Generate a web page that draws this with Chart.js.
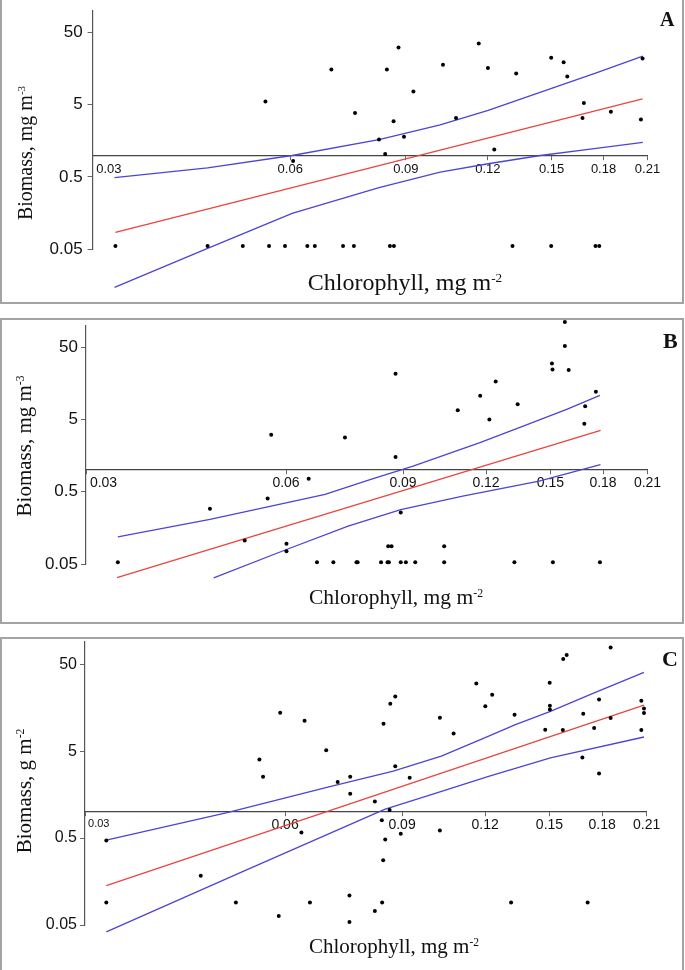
<!DOCTYPE html>
<html>
<head>
<meta charset="utf-8">
<script src="https://cdn.jsdelivr.net/npm/chart.js@4.4.1/dist/chart.umd.min.js"></script>
<style>
  html, body { margin: 0; padding: 0; background: #fff; }
  body { width: 685px; height: 970px; position: relative; overflow: hidden; }
  .panel { position: absolute; left: 0; width: 684px; box-sizing: border-box; border: 2px solid #a3a3a3; pointer-events: none; z-index: 2; }
  canvas.plot { position: absolute; left: 0; }
  .lbl { position: absolute; white-space: nowrap; line-height: 1; font-family: 'Liberation Serif', 'Times New Roman', serif; color: #111; z-index: 3; }
  .ytitle { transform: translate(-50%, -50%) rotate(-90deg); }
  .xtitle { transform: translateX(-50%); }
  .sup { font-size: 0.55em; position: relative; top: -0.62em; }
  .tag { font-weight: bold; }
</style>
</head>
<body>

<div class="panel" style="top:-2px;height:306px"></div>
<div class="panel" style="top:318px;height:306px"></div>
<div class="panel" style="top:637px;height:340px"></div>

<canvas id="chartA" class="plot" width="685" height="303" style="top:0"></canvas>
<canvas id="chartB" class="plot" width="685" height="305" style="top:318px"></canvas>
<canvas id="chartC" class="plot" width="685" height="332" style="top:638px"></canvas>

<div class="lbl ytitle" style="left:25px;top:153px;font-size:20px">Biomass, mg m<span class="sup">-3</span></div>
<div class="lbl xtitle" style="left:405px;top:270px;font-size:24px">Chlorophyll, mg m<span class="sup">-2</span></div>
<div class="lbl tag" style="left:660px;top:9px;font-size:20px">A</div>

<div class="lbl ytitle" style="left:24px;top:446px;font-size:21px">Biomass, mg m<span class="sup">-3</span></div>
<div class="lbl xtitle" style="left:396px;top:587px;font-size:21.5px">Chlorophyll, mg m<span class="sup">-2</span></div>
<div class="lbl tag" style="left:663px;top:330px;font-size:22px">B</div>

<div class="lbl ytitle" style="left:24px;top:791px;font-size:21px">Biomass, g m<span class="sup">-2</span></div>
<div class="lbl xtitle" style="left:394px;top:936px;font-size:21px">Chlorophyll, mg m<span class="sup">-2</span></div>
<div class="lbl tag" style="left:662px;top:648px;font-size:22px">C</div>

<script>
// axes (log-log)
const xTicks = [0.03, 0.06, 0.09, 0.12, 0.15, 0.18, 0.21];
const xTickLabels = ['0.03', '0.06', '0.09', '0.12', '0.15', '0.18', '0.21'];
const yTicks = [0.05, 0.5, 5, 50];
const yTickLabels = ['0.05', '0.5', '5', '50'];

// Panel A
const aChl = [0.0325, 0.0449, 0.0508, 0.0550, 0.0557, 0.0589, 0.0606, 0.0637, 0.0654, 0.0693, 0.0722, 0.0750, 0.0753, 0.0819, 0.0837, 0.0842, 0.0851, 0.0862, 0.0863, 0.0877, 0.0894, 0.0924, 0.1025, 0.1073, 0.1162, 0.1200, 0.1227, 0.1308, 0.1325, 0.1498, 0.1498, 0.1565, 0.1585, 0.1672, 0.1680, 0.1750, 0.1773, 0.1847, 0.2052, 0.2064];
const aBio = [0.055, 0.055, 0.055, 5.56, 0.055, 0.055, 0.83, 0.055, 0.055, 15.5, 0.055, 0.055, 3.86, 1.65, 1.04, 15.5, 0.055, 2.96, 0.055, 31.2, 1.8, 7.64, 17.9, 3.29, 35.4, 16.2, 1.2, 0.055, 13.6, 0.055, 22.4, 19.5, 12.3, 3.29, 5.31, 0.055, 0.055, 3.99, 3.13, 21.9];
const aFitChl = [0.0325, 0.2064];
const aFitBio = [0.085, 6.04];
const aUpChl = [0.0324, 0.0449, 0.0604, 0.0819, 0.1015, 0.1201, 0.1500, 0.1759, 0.2066];
const aUpBio = [0.49, 0.667, 0.99, 1.65, 2.63, 4.17, 8.46, 14.0, 23.6];
const aLoChl = [0.0324, 0.0449, 0.0604, 0.0819, 0.1015, 0.1201, 0.1442, 0.1718, 0.2066];
const aLoBio = [0.0147, 0.051, 0.156, 0.354, 0.581, 0.761, 0.99, 1.21, 1.51];

// Panel B
const bChl = [0.0335, 0.0461, 0.0520, 0.0563, 0.0570, 0.0601, 0.0601, 0.0649, 0.0668, 0.0707, 0.0736, 0.0766, 0.0769, 0.0834, 0.0853, 0.0855, 0.0857, 0.0865, 0.0877, 0.0877, 0.0893, 0.0893, 0.0909, 0.0939, 0.1038, 0.1038, 0.1088, 0.1176, 0.1214, 0.1241, 0.1324, 0.1339, 0.1508, 0.1511, 0.1513, 0.1577, 0.1577, 0.1598, 0.1687, 0.1692, 0.1756, 0.1781];
const bBio = [0.053, 0.29, 0.106, 0.404, 3.08, 0.0953, 0.0752, 0.757, 0.053, 0.053, 2.82, 0.053, 0.053, 0.053, 0.053, 0.0882, 0.053, 0.0882, 21.5, 1.51, 0.053, 0.258, 0.053, 0.053, 0.053, 0.0882, 6.75, 10.7, 5.02, 16.8, 0.053, 8.17, 29.9, 24.7, 0.053, 112, 52, 24.2, 4.37, 7.66, 12.1, 0.053];
const bFitChl = [0.0334, 0.1785];
const bFitBio = [0.0325, 3.53];
const bUpChl = [0.0335, 0.0461, 0.0563, 0.0687, 0.0805, 0.0932, 0.1175, 0.1365, 0.1587, 0.1781];
const bUpBio = [0.119, 0.207, 0.31, 0.459, 0.74, 1.13, 2.39, 4.05, 6.9, 10.8];
const bLoChl = [0.0467, 0.0601, 0.0744, 0.0893, 0.1107, 0.1442, 0.1784];
const bLoBio = [0.0322, 0.0794, 0.167, 0.284, 0.435, 0.701, 1.19];

// Panel C
const cChl = [0.1854, 0.1592, 0.1573, 0.1164, 0.1501, 0.1230, 0.0879, 0.0864, 0.2062, 0.1781, 0.1201, 0.1502, 0.1502, 0.2081, 0.2081, 0.0590, 0.1686, 0.1329, 0.1026, 0.1854, 0.0642, 0.0844, 0.1751, 0.1478, 0.1571, 0.2062, 0.1076, 0.0692, 0.1681, 0.0549, 0.0879, 0.1781, 0.0556, 0.0752, 0.0924, 0.0720, 0.0752, 0.0819, 0.0862, 0.0839, 0.1026, 0.0635, 0.0896, 0.0323, 0.0849, 0.0843, 0.0448, 0.0750, 0.0323, 0.0506, 0.0654, 0.0840, 0.1313, 0.1712, 0.0587, 0.0819, 0.0750];
const cBio = [77.8, 63.7, 57.3, 29.9, 30.5, 22.2, 21.2, 17.5, 19.0, 19.6, 16.4, 16.6, 15.1, 15.5, 13.7, 13.8, 13.5, 13.1, 12.1, 12.0, 11.2, 10.35, 9.2, 8.8, 8.74, 8.74, 7.95, 5.12, 4.22, 4.0, 3.36, 2.77, 2.53, 2.53, 2.47, 2.2, 1.62, 1.32, 1.05, 0.80, 0.61, 0.58, 0.56, 0.47, 0.48, 0.277, 0.184, 0.109, 0.091, 0.091, 0.091, 0.091, 0.091, 0.091, 0.0634, 0.0723, 0.0541];
const cFitChl = [0.0323, 0.2081];
const cFitBio = [0.142, 16.9];
const cUpChl = [0.0323, 0.0491, 0.0696, 0.0873, 0.1031, 0.1181, 0.1333, 0.1505, 0.1751, 0.2081];
const cUpBio = [0.474, 0.98, 1.93, 2.94, 4.37, 6.79, 10.1, 14.3, 23.4, 40.3];
const cLoChl = [0.0323, 0.0522, 0.0847, 0.1015, 0.1218, 0.1505, 0.2081];
const cLoBio = [0.0416, 0.211, 1.07, 1.66, 2.58, 4.18, 7.27];

const BLUE = '#4d44d4';
const RED = '#e8453c';
const SANS = "'Liberation Sans', Arial, sans-serif";

const pairs = (xs, ys) => xs.map((x, i) => ({ x, y: ys[i] }));

function line(xs, ys, color) {
    return {
        data: pairs(xs, ys),
        showLine: true,
        pointRadius: 0,
        borderColor: color,
        borderWidth: 1.3,
        fill: false,
        clip: false,
    };
}

// box: chart area placement inside the canvas + font sizes
function renderPanel(canvasId, s, box) {
    const canvas = document.getElementById(canvasId);
    new Chart(canvas, {
        type: 'scatter',
        data: {
            datasets: [
                { data: pairs(s.chl, s.bio), pointRadius: 2, pointBackgroundColor: '#000', pointBorderWidth: 0, clip: false },
                line(s.fitChl, s.fitBio, RED),
                line(s.upChl, s.upBio, BLUE),
                line(s.loChl, s.loBio, BLUE),
            ]
        },
        options: {
            responsive: false,
            animation: false,
            layout: { padding: { left: 0, top: box.top, right: box.right, bottom: box.bottom } },
            plugins: { legend: { display: false }, tooltip: { enabled: false } },
            scales: {
                x: {
                    type: 'logarithmic',
                    min: 0.03,
                    max: 0.21,
                    position: { y: 1 },
                    afterBuildTicks: sc => { sc.ticks = xTicks.map(v => ({ value: v })); },
                    afterFit: sc => { sc.paddingLeft = 0; sc.paddingRight = 0; },
                    grid: { drawOnChartArea: false, drawTicks: true, tickLength: 4, color: '#666', lineWidth: 1 },
                    border: { display: true, color: '#444', width: 1.2 },
                    ticks: {
                        autoSkip: false,
                        maxRotation: 0,
                        padding: box.xPad,
                        color: '#111',
                        font: ctx => ({ family: SANS, size: ctx.index === 0 ? box.firstSize : box.xSize }),
                        // first label sits to the right of the axis corner
                        callback: (v, i) => (i === 0 ? ' '.repeat(9) : '') + xTickLabels[i],
                    }
                },
                y: {
                    type: 'logarithmic',
                    min: 0.05,
                    max: box.yMax,
                    position: 'left',
                    afterBuildTicks: sc => { sc.ticks = yTicks.map(v => ({ value: v })); },
                    afterFit: sc => { sc.width = box.left; sc.paddingTop = 0; sc.paddingBottom = 0; },
                    grid: { drawOnChartArea: false, drawTicks: true, tickLength: 5, color: '#666', lineWidth: 1 },
                    border: { display: true, color: '#555', width: 1.2 },
                    ticks: {
                        autoSkip: false,
                        padding: box.yPad,
                        color: '#111',
                        font: { family: SANS, size: box.ySize },
                        callback: (v, i) => yTickLabels[i],
                    }
                }
            }
        }
    });
}

renderPanel('chartA',
    { chl: aChl, bio: aBio, fitChl: aFitChl, fitBio: aFitBio, upChl: aUpChl, upBio: aUpBio, loChl: aLoChl, loBio: aLoBio },
    { yMax: 100, left: 92.6, top: 11, right: 37.5, bottom: 54, xSize: 13, firstSize: 13, ySize: 17, xPad: 2, yPad: 5 });

renderPanel('chartB',
    { chl: bChl, bio: bBio, fitChl: bFitChl, fitBio: bFitBio, upChl: bUpChl, upBio: bUpBio, loChl: bLoChl, loBio: bLoBio },
    { yMax: 100, left: 86, top: 7.6, right: 37.5, bottom: 59, xSize: 14, firstSize: 14, ySize: 17, xPad: 1, yPad: 3 });

renderPanel('chartC',
    { chl: cChl, bio: cBio, fitChl: cFitChl, fitBio: cFitBio, upChl: cUpChl, upBio: cUpBio, loChl: cLoChl, loBio: cLoBio },
    { yMax: 90, left: 85, top: 2.4, right: 38.4, bottom: 45, xSize: 14, firstSize: 11, ySize: 16, xPad: 1, yPad: 3 });
</script>
</body>
</html>
